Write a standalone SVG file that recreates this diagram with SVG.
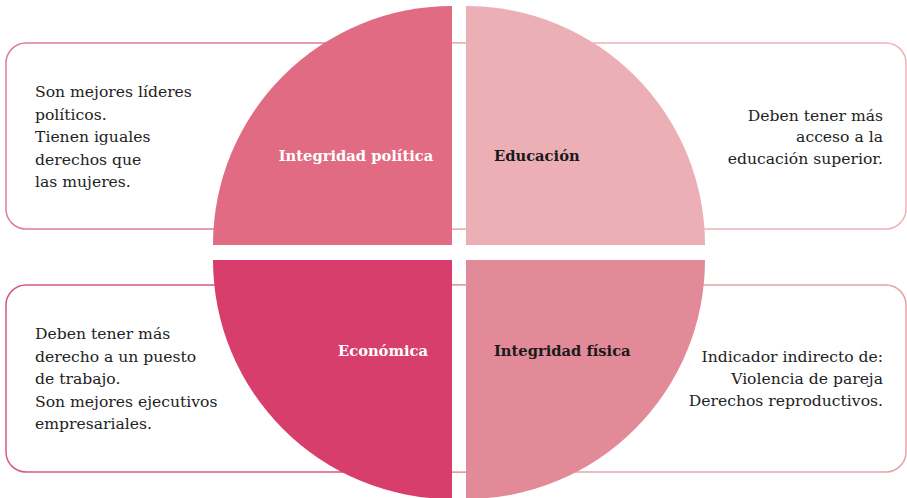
<svg xmlns="http://www.w3.org/2000/svg" width="907" height="498" viewBox="0 0 907 498">
  <style>
    .box { fill: #ffffff; stroke-width: 1.5; }
    .txt { font-family: "DejaVu Serif", "Liberation Serif", serif; font-size: 15.6px; fill: #222222; }
    .lbl { font-family: "DejaVu Serif", "Liberation Serif", serif; font-size: 14.7px; font-weight: bold; }
    .end { text-anchor: end; }
  </style>
  <rect width="907" height="498" fill="#ffffff"/>

  <!-- outlined text panels behind the circle -->
  <g id="panel-politica">
    <rect class="box" x="6" y="43" width="500" height="186" rx="20" stroke="#E07D91"/>
  </g>
  <g id="panel-educacion">
    <rect class="box" x="406" y="43" width="500" height="186" rx="20" stroke="#EDB3B9"/>
  </g>
  <g id="panel-economica">
    <rect class="box" x="6" y="285" width="500" height="187" rx="20" stroke="#D9587E"/>
  </g>
  <g id="panel-fisica">
    <rect class="box" x="406" y="285" width="500" height="187" rx="20" stroke="#E6A1A9"/>
  </g>

  <!-- circle split into four quadrants -->
  <g id="q-politica">
    <path d="M452 245 L213 245 A239 239 0 0 1 452 6 Z" fill="#E06B82"/>
    <text class="lbl" x="356" y="161" text-anchor="middle" fill="#ffffff">Integridad política</text>
  </g>
  <g id="q-educacion">
    <path d="M466 245 L466 6 A239 239 0 0 1 705 245 Z" fill="#EBAFB5"/>
    <text class="lbl" x="494" y="161" fill="#1a1a1a">Educación</text>
  </g>
  <g id="q-economica">
    <path d="M452 260 L452 499 A239 239 0 0 1 213 260 Z" fill="#D83E6B"/>
    <text class="lbl" x="383" y="356" text-anchor="middle" fill="#ffffff">Económica</text>
  </g>
  <g id="q-fisica">
    <path d="M466 260 L705 260 A239 239 0 0 1 466 499 Z" fill="#E28A97"/>
    <text class="lbl" x="494" y="356" fill="#1a1a1a">Integridad física</text>
  </g>

  <!-- panel texts -->
  <g id="text-politica" class="txt">
    <text x="35" y="97">Son mejores líderes</text>
    <text x="35" y="119.5">políticos.</text>
    <text x="35" y="142">Tienen iguales</text>
    <text x="35" y="164.5">derechos que</text>
    <text x="35" y="187">las mujeres.</text>
  </g>
  <g id="text-educacion" class="txt end">
    <text x="883" y="120.5">Deben tener más</text>
    <text x="883" y="142">acceso a la</text>
    <text x="883" y="163.5">educación superior.</text>
  </g>
  <g id="text-economica" class="txt">
    <text x="35" y="339">Deben tener más</text>
    <text x="35" y="361.5">derecho a un puesto</text>
    <text x="35" y="384">de trabajo.</text>
    <text x="35" y="406.5">Son mejores ejecutivos</text>
    <text x="35" y="429">empresariales.</text>
  </g>
  <g id="text-fisica" class="txt end">
    <text x="883" y="362">Indicador indirecto de:</text>
    <text x="883" y="384">Violencia de pareja</text>
    <text x="883" y="406">Derechos reproductivos.</text>
  </g>
</svg>
